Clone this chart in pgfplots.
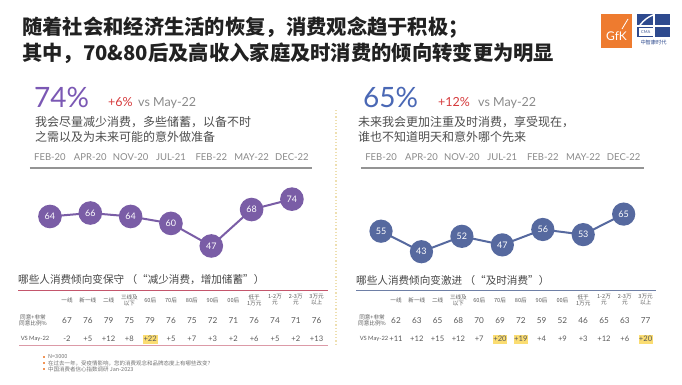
\documentclass[border=0pt]{standalone}
\usepackage{pgfplots}
\usepackage{pgfplotstable}
\pgfplotsset{compat=1.18}
\usepackage{fontspec}
\setmainfont{Lato}
\newfontfamily\cjk{Noto Sans CJK SC}
\definecolor{pur}{HTML}{7A5DA6}
\definecolor{purt}{HTML}{7B58B4}
\definecolor{blu}{HTML}{56699F}
\definecolor{blut}{HTML}{4A68B5}
\definecolor{redt}{HTML}{D63A3C}
\definecolor{grayt}{HTML}{8A8A8A}
\definecolor{desc}{HTML}{4D4D4D}
\definecolor{tabt}{HTML}{5A5A5A}
\definecolor{pinkline}{HTML}{C4566C}
\definecolor{blueline}{HTML}{6E7FA6}
\definecolor{hl}{HTML}{FBDD72}
\definecolor{gfk}{HTML}{EE7B2F}
\definecolor{cma}{HTML}{2E4A8E}
\definecolor{dotc}{HTML}{EEDFB0}

\pgfplotstableread{
x v
0 64
1 66
2 64
3 60
4 47
5 68
6 74
}\leftdata
\pgfplotstableread{
x v
0 55
1 43
2 52
3 47
4 56
5 53
6 65
}\rightdata

\begin{document}
\begin{tikzpicture}
\useasboundingbox[fill=white] (0,0) rectangle (682pt,384pt);

\pgfplotsset{panel/.style={
  anchor=south west, scale only axis, xmin=-0.5, xmax=6.5,
  axis x line*=top, axis y line=none,
  axis line style={draw=black!42, line width=1.5pt},
  xtick={0,...,6},
  xticklabels={FEB-20,APR-20,NOV-20,JUL-21,FEB-22,MAY-22,DEC-22},
  xticklabel style={anchor=center, yshift=11pt, font=\fontsize{9.5}{10}\selectfont, text=grayt},
  major tick length=0pt, ytick=\empty, clip=false,
  /pgf/number format/assume math mode=true}}

\begin{axis}[panel, at={(29.8pt,125.9pt)}, width=282.3pt, height=90.1pt, ymin=40, ymax=91.95]
\addplot[pur, line width=2pt, mark=*, mark size=10.8pt, mark options={fill=pur, draw=pur},
  nodes near coords, nodes near coords align={center},
  every node near coord/.append style={text=white, font=\fontsize{9}{10}\selectfont}]
  table[x=x,y=v]{\leftdata};
\end{axis}

\begin{axis}[panel, at={(360.8pt,118.6pt)}, width=283.1pt, height=97.4pt, ymin=35, ymax=91.95]
\addplot[blu, line width=2pt, mark=*, mark size=10.6pt, mark options={fill=blu, draw=blu},
  nodes near coords, nodes near coords align={center},
  every node near coord/.append style={text=white, font=\fontsize{9}{10}\selectfont}]
  table[x=x,y=v]{\rightdata};
\end{axis}

\begin{scope}[x=1pt, y=-1pt, yshift=384pt]
% title
\node[anchor=west, inner sep=0pt, text=black!87, font=\cjk\bfseries\fontsize{20.3}{24}\selectfont] at (22,28) {随着社会和经济生活的恢复，消费观念趋于积极；};
\node[anchor=west, inner sep=0pt, text=black!87, font=\cjk\bfseries\fontsize{20.3}{24}\selectfont] at (22,53) {其中，70\&80后及高收入家庭及时消费的倾向转变更为明显};

% logos
\fill[gfk] (601,14) rectangle (632,48);
\node[text=white, font=\fontsize{12}{12}\selectfont, inner sep=0pt] at (616.5,36) {GfK};
\draw[white, line width=0.8pt] (622,29) -- (628,19);
\fill[cma] (637,14) rectangle (670,37);
\draw[white, line width=1.2pt] (654,14) -- (654,37);
\draw[white, line width=1.2pt] (637,26) -- (670,26);
\fill[white] (638.5,27.5) rectangle (653,36);
\node[text=cma, font=\fontsize{4}{4}\selectfont, inner sep=0pt] at (645.7,31.8) {CMA};
\draw[white, line width=1.4pt] (640,25) .. controls (644,20) and (648,17) .. (653,15);
\node[text=cma, font=\cjk\fontsize{5.2}{6}\selectfont, inner sep=0pt] at (653.5,42.5) {中智康时代};

% headline numbers
\node[anchor=base west, inner sep=0pt, text=purt, font=\fontsize{28}{30}\selectfont] at (34,107) {74\%};
\node[anchor=base west, inner sep=0pt, text=redt, font=\fontsize{12.5}{14}\selectfont] at (108,106) {+6\%};
\node[anchor=base west, inner sep=0pt, text=grayt, font=\fontsize{12.5}{14}\selectfont] at (138,106) {vs May-22};
\node[anchor=base west, inner sep=0pt, text=blut, font=\fontsize{28}{30}\selectfont] at (363,107) {65\%};
\node[anchor=base west, inner sep=0pt, text=redt, font=\fontsize{12.5}{14}\selectfont] at (438,106) {+12\%};
\node[anchor=base west, inner sep=0pt, text=grayt, font=\fontsize{12.5}{14}\selectfont] at (478,106) {vs May-22};

% descriptions
\node[anchor=west, inner sep=0pt, text=desc, font=\cjk\fontsize{12}{14}\selectfont] at (35,122) {我会尽量减少消费，多些储蓄，以备不时};
\node[anchor=west, inner sep=0pt, text=desc, font=\cjk\fontsize{12}{14}\selectfont] at (35,137) {之需以及为未来可能的意外做准备};
\node[anchor=west, inner sep=0pt, text=desc, font=\cjk\fontsize{12}{14}\selectfont] at (358,122) {未来我会更加注重及时消费，享受现在，};
\node[anchor=west, inner sep=0pt, text=desc, font=\cjk\fontsize{12}{14}\selectfont] at (358,137) {谁也不知道明天和意外哪个先来};

% dotted divider
\draw[dotc, line width=1.2pt, dotted] (336,110) -- (336,345);

% section titles
\node[anchor=west, inner sep=0pt, text=black!72, font=\cjk\fontsize{10.6}{12}\selectfont] at (18,280) {哪些人消费倾向变保守 （“减少消费，增加储蓄”）};
\node[anchor=west, inner sep=0pt, text=black!72, font=\cjk\fontsize{10.6}{12}\selectfont] at (356,280) {哪些人消费倾向变激进 （“及时消费”）};
\draw[pinkline, line width=0.9pt] (18,290.5) -- (328,290.5);
\draw[pinkline!60, line width=0.9pt] (19,345) -- (328,345);
\draw[blueline, line width=0.9pt] (356,290.5) -- (656,290.5);

% highlights
\fill[hl] (143,334.5) rectangle (157.5,343.5);
\fill[hl] (492.5,334.5) rectangle (507,343.5);
\fill[hl] (513.5,334.5) rectangle (528,343.5);
\fill[hl] (638.5,334.5) rectangle (653,343.5);

% tables
\foreach \ox in {67,396} {
  \foreach \h [count=\i from 0] in {一线,新一线,二线,{三线及\\以下},60后,70后,80后,90后,00后,{低于\\1万元},{1-2万\\元},{2-3万\\元},{3万元\\以上}} {
    \node[align=center, inner sep=0pt, text=tabt, font=\cjk\fontsize{5.6}{6}\selectfont] at ({\ox+20.8*\i},300) {\h};
  }
}
\foreach \v [count=\i from 0] in {67,76,79,75,79,76,75,72,71,76,74,71,76} {
  \node[inner sep=0pt, text=tabt, font=\fontsize{8.2}{9}\selectfont] at ({67+20.8*\i},320.5) {\v};
}
\foreach \v [count=\i from 0] in {-2,+5,+12,+8,+22,+5,+7,+3,+2,+6,+5,+2,+13} {
  \node[inner sep=0pt, text=tabt, font=\fontsize{7.6}{9}\selectfont] at ({67+20.8*\i},339) {\v};
}
\foreach \v [count=\i from 0] in {62,63,65,68,70,69,72,59,52,46,65,63,77} {
  \node[inner sep=0pt, text=tabt, font=\fontsize{8.2}{9}\selectfont] at ({396+20.8*\i},320.5) {\v};
}
\foreach \v [count=\i from 0] in {+11,+12,+15,+12,+7,+20,+19,+4,+9,+3,+12,+6,+20} {
  \node[inner sep=0pt, text=tabt, font=\fontsize{7.6}{9}\selectfont] at ({396+20.8*\i},339) {\v};
}
\foreach \ox in {33,372} {
  \node[align=center, inner sep=0pt, text=tabt, font=\cjk\fontsize{5.6}{6}\selectfont] at (\ox,320.5) {同意+非常\\同意比例\%};
  \node[inner sep=0pt, text=tabt, font=\fontsize{5.8}{7}\selectfont] at (\ox+2,339) {VS May-22};
}

% footnotes
\foreach \yy/\tt in {357/{N=3000},363/{在过去一年，受疫情影响，您的消费观念和品牌态度上有哪些改变？},369/{中国消费者信心指数调研 Jan-2023}} {
  \fill[gfk!80] (43,\yy-1) rectangle (45,\yy+1);
  \node[anchor=west, inner sep=0pt, text=black!55, font=\cjk\fontsize{5.5}{6}\selectfont] at (48,\yy) {\tt};
}
\end{scope}
\end{tikzpicture}
\end{document}
